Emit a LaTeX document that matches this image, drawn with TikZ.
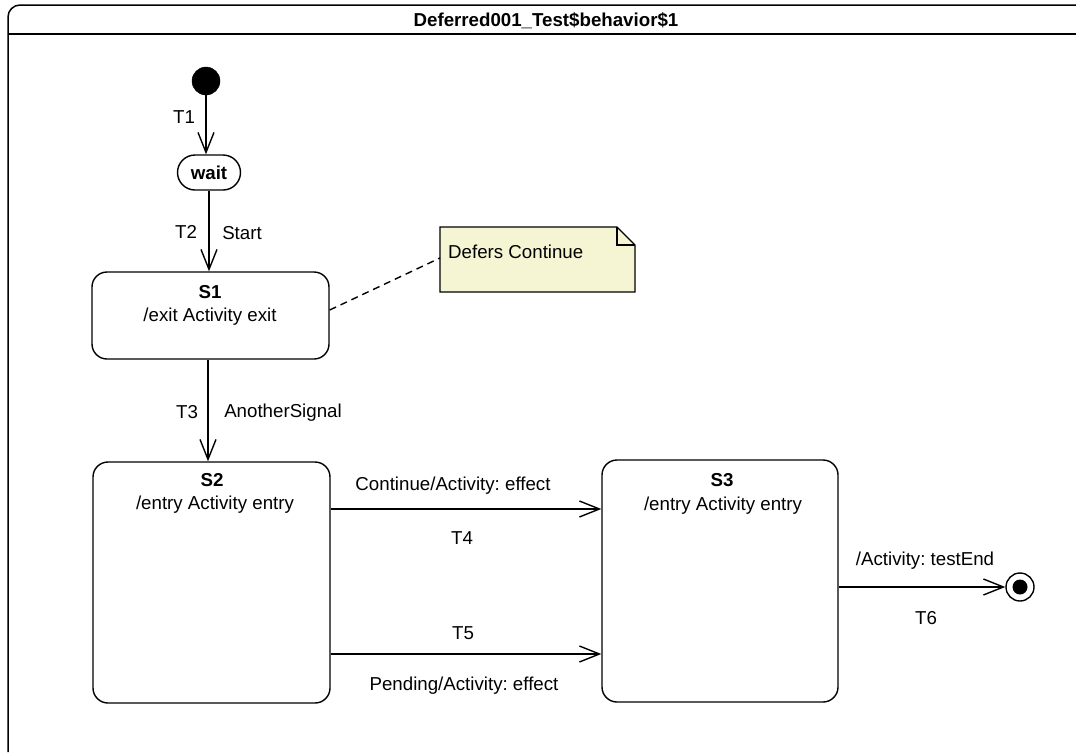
\documentclass[tikz,border=0pt]{standalone}
\usepackage{fontspec}
\setmainfont{Liberation Sans}
\frenchspacing
\usetikzlibrary{arrows.meta,shapes.misc,calc}
\definecolor{notefill}{RGB}{245,245,212}
\tikzset{
  lbl/.style={inner sep=0pt, font=\fontsize{18.7}{22}\selectfont},
  blbl/.style={inner sep=0pt, font=\fontsize{18.7}{22}\selectfont\bfseries},
  statebox/.style={draw, line width=1.4pt, rounded corners=15pt, rectangle},
  trans/.style={line width=1.4pt, -{Straight Barb[length=20pt,width=16pt,line width=1.4pt]}},
}
\begin{document}
\begin{tikzpicture}[x=1pt,y=-1pt]
\useasboundingbox (0,0) rectangle (1076,753);
% frame
\draw[line width=1.5pt, rounded corners=12pt] (8,752) -- (8,5) -- (1100,5);
\draw[line width=1.5pt] (8,34) -- (1090,34);
\node[blbl] (title) at (546,21) {Deferred001\_Test\$behavior\$1};
% initial
\node[circle, fill=black, draw, minimum size=28pt, inner sep=0pt] (init) at (206,81) {};
% wait
\node[draw, line width=1.4pt, rounded rectangle, minimum width=63pt, minimum height=35pt, inner sep=0pt, font=\fontsize{18.7}{22}\selectfont\bfseries] (wait) at (209,172.5) {wait};
% states
\node[statebox, minimum width=237pt, minimum height=87pt] (s1) at (210.5,315.5) {};
\node[blbl] (s1n) at (210,292) {S1};
\node[lbl] (s1e) at (210,317) {/exit Activity exit};
\node[statebox, minimum width=237pt, minimum height=241pt] (s2) at (211.5,582.5) {};
\node[blbl] (s2n) at (212,480) {S2};
\node[lbl] (s2e) at (215,505) {/entry Activity entry};
\node[statebox, minimum width=236pt, minimum height=242pt] (s3) at (720,581) {};
\node[blbl] (s3n) at (722,480) {S3};
\node[lbl] (s3e) at (723,506) {/entry Activity entry};
% final
\node[circle, draw, line width=1.4pt, minimum size=28pt, inner sep=0pt] (final) at (1020,587) {};
\node[circle, fill=black, minimum size=15pt, inner sep=0pt] (finaldot) at (final.center) {};
% note
\path[draw, fill=notefill, line width=1.4pt] (440,227) -- (617,227) -- (635,245) -- (635,292) -- (440,292) -- cycle;
\draw[line width=1.1pt] (617,227) -- (617,245) -- (635,245);
\node[lbl, anchor=west] (note) at (448,252) {Defers Continue};
% transitions
\draw[trans] (init.south) -- (init.south |- wait.north);
\node[lbl] (t1) at (184,117) {T1};
\draw[trans] (wait.south) -- (wait.south |- s1.north);
\node[lbl] (t2) at (186,232) {T2};
\node[lbl] (start) at (242,233) {Start};
\coordinate (t3x) at (208,0);
\draw[trans] (t3x |- s1.south) -- (t3x |- s2.north);
\node[lbl] (t3) at (187,412) {T3};
\node[lbl] (another) at (283,413) {AnotherSignal};
\coordinate (t4y) at (0,509);
\draw[trans] (s2.east |- t4y) -- (s3.west |- t4y);
\node[lbl] (t4trig) at (453,486) {Continue/Activity: effect};
\node[lbl] (t4) at (462,538) {T4};
\coordinate (t5y) at (0,654);
\draw[trans] (s2.east |- t5y) -- (s3.west |- t5y);
\node[lbl] (t5) at (463,633) {T5};
\node[lbl] (t5trig) at (464,686) {Pending/Activity: effect};
\draw[trans] (s3.east |- final) -- (final.west);
\node[lbl] (t6trig) at (925,561) {/Activity: testEnd};
\node[lbl] (t6) at (926,618) {T6};
% anchor line
\draw[line width=1.4pt, dash pattern=on 7pt off 5pt] (s1.east |- 0,310) -- (440,258);
\end{tikzpicture}
\end{document}
